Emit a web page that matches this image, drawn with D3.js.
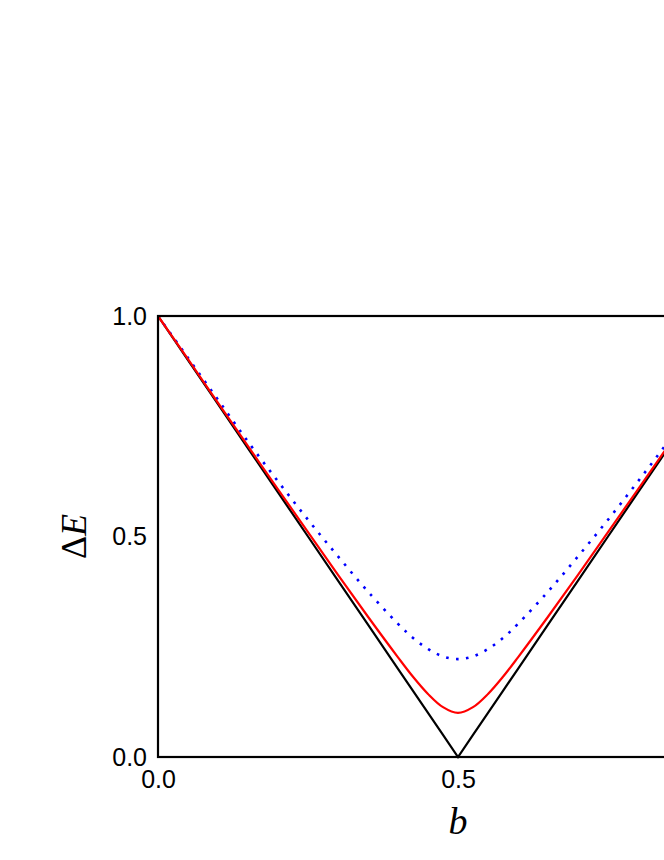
<!DOCTYPE html>
<html>
<head>
<meta charset="utf-8">
<script src="https://cdn.jsdelivr.net/npm/d3@7"></script>
<style>
    body { margin: 0; background: #fff; }
    svg { display: block; }
</style>
</head>
<body>
<svg id="chart"></svg>
<script>
// values, b from 0 to 1
const bValues = [0, 0.05, 0.1, 0.15, 0.2, 0.25, 0.3, 0.35, 0.4, 0.425, 0.45, 0.475, 0.5,
    0.525, 0.55, 0.575, 0.6, 0.65, 0.7, 0.75, 0.8, 0.85, 0.9, 0.95, 1]
const exactGap = [1, 0.9, 0.8, 0.7, 0.6, 0.5, 0.4, 0.3, 0.2, 0.15, 0.1, 0.05, 0,
    0.05, 0.1, 0.15, 0.2, 0.3, 0.4, 0.5, 0.6, 0.7, 0.8, 0.9, 1]
const redGap = [1, 0.902, 0.803, 0.705, 0.607, 0.51, 0.413, 0.318, 0.226, 0.182, 0.143, 0.113, 0.1,
    0.113, 0.143, 0.182, 0.226, 0.318, 0.413, 0.51, 0.607, 0.705, 0.803, 0.902, 1]
const blueGap = [1, 0.905, 0.81, 0.715, 0.625, 0.538, 0.455, 0.375, 0.302, 0.27, 0.245, 0.228, 0.222,
    0.228, 0.245, 0.27, 0.302, 0.375, 0.455, 0.538, 0.625, 0.715, 0.81, 0.905, 1]
// the 1.0 label on b sits past the right edge of the window, so only these show
const xTicks = [0, 0.5]
const yTicks = [0, 0.5, 1]

const width = 664
const height = 860
const margin = { top: 316, left: 158, bottom: 103 }
const plotW = 600
const plotH = height - margin.top - margin.bottom

const svg = d3.select('#chart')
    .attr('width', width)
    .attr('height', height)

const xScale = d3.scaleLinear().domain([0, 1]).range([margin.left, margin.left + plotW])
const yScale = d3.scaleLinear().domain([0, 1]).range([margin.top + plotH, margin.top])

const tickFont = '"Liberation Sans", Arial, sans-serif'
const labelFont = '"Liberation Serif", "Times New Roman", serif'

// tick labels
svg.append('g')
    .attr('transform', 'translate(0,' + (margin.top + plotH) + ')')
    .call(d3.axisBottom(xScale).tickValues(xTicks).tickFormat(d3.format('.1f')).tickSize(0).tickPadding(13))
    .attr('font-size', 25)
    .attr('font-family', tickFont)
    .call(g => g.select('.domain').remove())
    .selectAll('text')
    .attr('fill', '#000')

svg.append('g')
    .attr('transform', 'translate(' + margin.left + ',0)')
    .call(d3.axisLeft(yScale).tickValues(yTicks).tickFormat(d3.format('.1f')).tickSize(0).tickPadding(11))
    .attr('font-size', 25)
    .attr('font-family', tickFont)
    .call(g => g.select('.domain').remove())
    .selectAll('text')
    .attr('fill', '#000')

const makeLine = (vals) => d3.line()
    .x((d, i) => xScale(bValues[i]))
    .y((d) => yScale(d))
    .curve(d3.curveCatmullRom)(vals)

svg.append('path')
    .attr('d', d3.line().x((d, i) => xScale(bValues[i])).y(d => yScale(d))(exactGap))
    .attr('fill', 'none')
    .attr('stroke', '#000')
    .attr('stroke-width', 2.2)

svg.append('path')
    .attr('d', makeLine(blueGap))
    .attr('fill', 'none')
    .attr('stroke', '#0000ff')
    .attr('stroke-width', 2.6)
    .attr('stroke-dasharray', '2.6,7.4')

svg.append('path')
    .attr('d', makeLine(redGap))
    .attr('fill', 'none')
    .attr('stroke', '#ff0000')
    .attr('stroke-width', 2.2)

// frame
svg.append('rect')
    .attr('x', xScale(0))
    .attr('y', yScale(1))
    .attr('width', xScale(1) - xScale(0))
    .attr('height', yScale(0) - yScale(1))
    .attr('fill', 'none')
    .attr('stroke', '#000')
    .attr('stroke-width', 2.2)

// axis labels
svg.append('text')
    .attr('x', xScale(0.5))
    .attr('y', 834)
    .attr('text-anchor', 'middle')
    .attr('font-family', labelFont)
    .attr('font-size', 38)
    .attr('font-style', 'italic')
    .text('b')

const yLabel = svg.append('text')
    .attr('transform', 'translate(86,' + yScale(0.5) + ') rotate(-90)')
    .attr('text-anchor', 'middle')
    .attr('font-family', labelFont)
    .attr('font-size', 36)
yLabel.append('tspan').text('Δ')
yLabel.append('tspan').attr('font-style', 'italic').text('E')
</script>
</body>
</html>
